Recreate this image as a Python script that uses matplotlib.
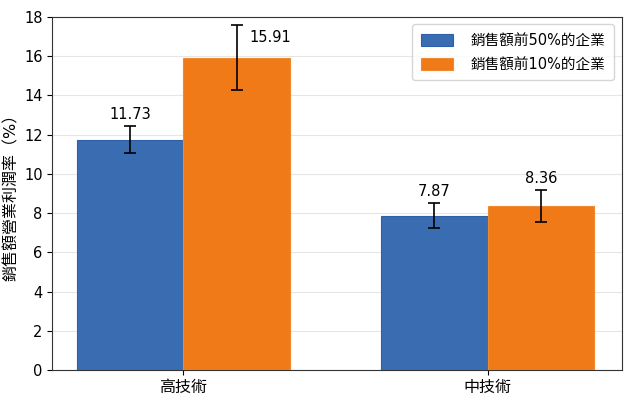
import matplotlib
matplotlib.use("Agg")
import matplotlib.pyplot as plt
import numpy as np

plt.rcParams['font.family'] = ['DejaVu Sans', 'Noto Sans CJK TC']

categories = ["高技術", "中技術"]
series_names = ["銷售額前50%的企業", "銷售額前10%的企業"]
top50 = [11.73, 7.87]
top10 = [15.91, 8.36]
top50_err = [0.69, 0.62]
top10_err = [1.66, 0.82]
ylabel = "銷售額營業利潤率（%）"

fig = plt.figure(figsize=(6.24, 4.0), dpi=100)
ax = fig.add_axes([0.084, 0.075, 0.912, 0.883])

x = np.arange(len(categories))
w = 0.35
blue = "#3a6cb1"
orange = "#f07a18"
ax.bar(x - w/2, top50, w, color=blue, edgecolor="#2f5fa8", linewidth=0.8,
       yerr=top50_err, capsize=4, error_kw=dict(ecolor="black", elinewidth=1.2, capthick=1.2),
       label=series_names[0], zorder=3)
ax.bar(x + w/2, top10, w, color=orange, edgecolor="#f08a30", linewidth=0.8,
       yerr=top10_err, capsize=4, error_kw=dict(ecolor="black", elinewidth=1.2, capthick=1.2),
       label=series_names[1], zorder=3)

for i in range(len(categories)):
    ax.text(x[i] - w/2, top50[i] + top50_err[i] + 0.6, f"{top50[i]:.2f}",
            ha="center", va="center", fontsize=10.5, zorder=4)
    if i == 0:
        ax.text(x[i] + w/2 + 0.11, 16.95, f"{top10[i]:.2f}",
                ha="center", va="center", fontsize=10.5, zorder=4)
    else:
        ax.text(x[i] + w/2, top10[i] + top10_err[i] + 0.6, f"{top10[i]:.2f}",
                ha="center", va="center", fontsize=10.5, zorder=4)

ax.set_xlim(-0.43, 1.44)
ax.set_ylim(0, 18)
ax.set_yticks(np.arange(0, 19, 2))
ax.set_xticks(x)
ax.set_xticklabels(categories, fontsize=11.5)
ax.tick_params(axis='y', labelsize=10.5)
ax.set_ylabel(ylabel, fontsize=11.5, labelpad=4, y=0.5)
ax.yaxis.grid(True, color="#e6e6e6", linewidth=0.8, zorder=0)
ax.set_axisbelow(True)
for s in ax.spines.values():
    s.set_color("#333333")
ax.legend(loc="upper right", fontsize=10.5, frameon=True, edgecolor="#cccccc",
          handlelength=2.2, handleheight=0.9, borderpad=0.6, handletextpad=1.2,
          labelspacing=0.6)

fig.savefig("out.png", dpi=100)
